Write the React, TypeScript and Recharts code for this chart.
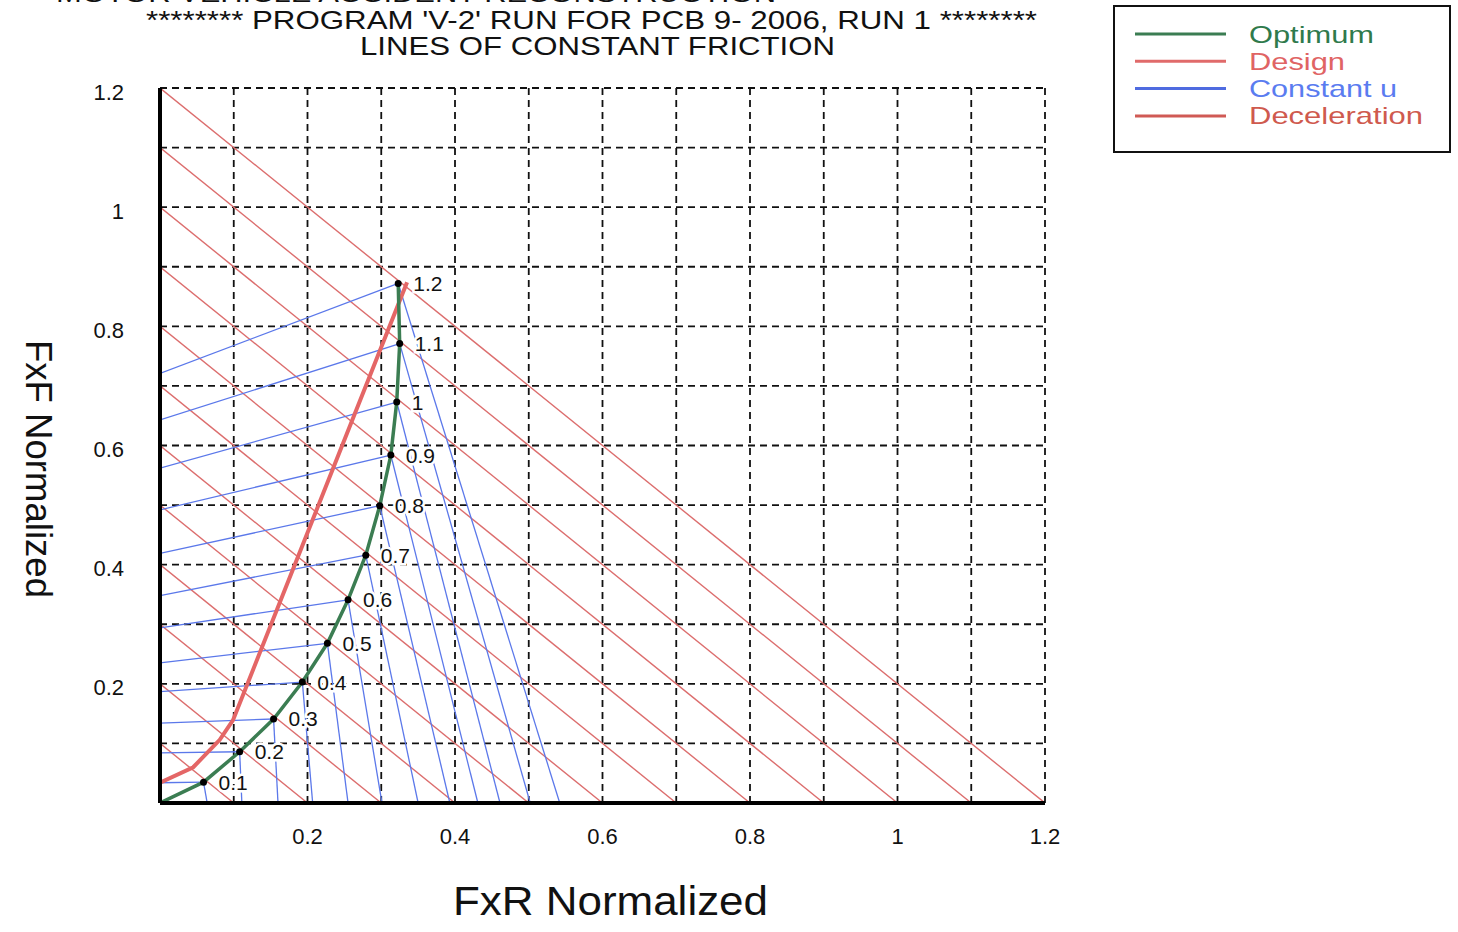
import React from "react";
import { ComposedChart, Line, Scatter, XAxis, YAxis, CartesianGrid } from "recharts";

// values (normalized by vehicle weight)
const AXIS_TICKS = [0, 0.1, 0.2, 0.3, 0.4, 0.5, 0.6, 0.7, 0.8, 0.9, 1.0, 1.1, 1.2];
const AXIS_TICK_LABELS = ["", "", "0.2", "", "0.4", "", "0.6", "", "0.8", "", "1", "", "1.2"];

// lines of constant deceleration: FxR + FxF = level
const DECEL_LEVELS = [0.1, 0.2, 0.3, 0.4, 0.5, 0.6, 0.7, 0.8, 0.9, 1.0, 1.1, 1.2];

// optimum (ideal) brake force distribution, one point per friction value
const MU_LABELS = ["0.1", "0.2", "0.3", "0.4", "0.5", "0.6", "0.7", "0.8", "0.9", "1", "1.1", "1.2"];
const OPT_FXR = [0, 0.059, 0.108, 0.154, 0.193, 0.227, 0.255, 0.279, 0.298, 0.313, 0.321, 0.325, 0.323];
const OPT_FXF = [0, 0.035, 0.086, 0.141, 0.203, 0.268, 0.341, 0.416, 0.499, 0.584, 0.673, 0.771, 0.872];

// constant-friction lines: where they meet the FxF axis (front lock) and the FxR axis (rear lock)
const FRONT_LOCK_FXF_AT_ZERO = [0.034, 0.084, 0.134, 0.187, 0.235, 0.294, 0.348, 0.419, 0.492, 0.562, 0.643, 0.721];
const REAR_LOCK_FXR_AT_ZERO = [0.064, 0.111, 0.16, 0.207, 0.255, 0.301, 0.35, 0.393, 0.431, 0.461, 0.502, 0.542];

// installed (design) brake proportioning
const DESIGN_FXR = [0, 0, 0.045, 0.081, 0.099, 0.335];
const DESIGN_FXF = [0, 0.034, 0.06, 0.106, 0.139, 0.874];

const LEGEND_ITEMS = [
  { name: "Optimum", line: "#3b7d52", text: "#2f7a4c", len: 125 },
  { name: "Design", line: "#e06a6a", text: "#e06464", len: 96 },
  { name: "Constant u", line: "#4f6be0", text: "#5a7cf0", len: 148 },
  { name: "Deceleration", line: "#d05a55", text: "#cf5a4e", len: 174 },
];

const FONT = '"Liberation Sans", Arial, Helvetica, sans-serif';
const DECEL_COLOR = "#dc6e6e";
const BLUE = "#5b78ea";
const GREEN = "#3b7d52";
const DESIGN_COLOR = "#e46666";

const decelSeries = DECEL_LEVELS.map((c) => [
  { x: 0, y: c },
  { x: c, y: 0 },
]);
const frontLockSeries = FRONT_LOCK_FXF_AT_ZERO.map((f, i) => [
  { x: 0, y: f },
  { x: OPT_FXR[i + 1], y: OPT_FXF[i + 1] },
]);
const rearLockSeries = REAR_LOCK_FXR_AT_ZERO.map((r, i) => [
  { x: OPT_FXR[i + 1], y: OPT_FXF[i + 1] },
  { x: r, y: 0 },
]);
const optimumData = OPT_FXR.map((x, i) => ({ x, y: OPT_FXF[i] }));
const designData = DESIGN_FXR.map((x, i) => ({ x, y: DESIGN_FXF[i] }));
const optimumPoints = MU_LABELS.map((label, i) => ({ x: OPT_FXR[i + 1], y: OPT_FXF[i + 1], label }));

function XTick(props: any) {
  const { x, y, index } = props;
  const label = AXIS_TICK_LABELS[index];
  if (!label) return <g />;
  return (
    <text x={x} y={y + 41} textAnchor="middle" fontSize={22} fontFamily={FONT} fill="#111">
      {label}
    </text>
  );
}

function YTick(props: any) {
  const { x, y, index } = props;
  const label = AXIS_TICK_LABELS[index];
  if (!label) return <g />;
  return (
    <text x={x - 36} y={y + 4} textAnchor="end" dominantBaseline="central" fontSize={22} fontFamily={FONT} fill="#111">
      {label}
    </text>
  );
}

function MuPoint(props: any) {
  const { cx, cy, payload } = props;
  return (
    <g>
      <text
        x={cx + 15}
        y={cy}
        dominantBaseline="central"
        fontSize={21}
        fontFamily={FONT}
        fill="#111"
        stroke="#fff"
        strokeWidth={5}
        paintOrder="stroke"
      >
        {payload.label}
      </text>
      <circle cx={cx} cy={cy} r={3.5} fill="#000" />
    </g>
  );
}

const lineProps = {
  type: "linear" as const,
  dataKey: "y",
  dot: false,
  activeDot: false,
  isAnimationActive: false,
  legendType: "none" as const,
};

export default function App() {
  return (
    <div style={{ position: "absolute", left: 0, top: 0, width: 1458, height: 932, background: "#fff" }}>
      <ComposedChart width={1458} height={932} margin={{ top: 88, right: 413, bottom: 89, left: 100 }}>
        <CartesianGrid stroke="#111" strokeWidth={1.8} strokeDasharray="7 5" />
        <XAxis
          type="number"
          dataKey="x"
          domain={[0, 1.2]}
          ticks={AXIS_TICKS}
          allowDataOverflow
          height={40}
          tickLine={false}
          tickSize={0}
          tickMargin={0}
          tick={<XTick />}
          axisLine={{ stroke: "#000", strokeWidth: 4 }}
        />
        <YAxis
          type="number"
          dataKey="y"
          domain={[0, 1.2]}
          ticks={AXIS_TICKS}
          allowDataOverflow
          width={60}
          tickLine={false}
          tickSize={0}
          tickMargin={0}
          tick={<YTick />}
          axisLine={{ stroke: "#000", strokeWidth: 4 }}
        />
        {decelSeries.map((d, i) => (
          <Line key={"dec" + i} {...lineProps} data={d} stroke={DECEL_COLOR} strokeWidth={1.4} />
        ))}
        {frontLockSeries.map((d, i) => (
          <Line key={"fl" + i} {...lineProps} data={d} stroke={BLUE} strokeWidth={1.3} />
        ))}
        {rearLockSeries.map((d, i) => (
          <Line key={"rl" + i} {...lineProps} data={d} stroke={BLUE} strokeWidth={1.3} />
        ))}
        <Line {...lineProps} data={designData} stroke={DESIGN_COLOR} strokeWidth={4} />
        <Line {...lineProps} data={optimumData} stroke={GREEN} strokeWidth={3.5} />
        <Scatter data={optimumPoints} dataKey="y" shape={<MuPoint />} isAnimationActive={false} legendType="none" />
      </ComposedChart>

      <svg
        width={1458}
        height={932}
        style={{ position: "absolute", left: 0, top: 0, pointerEvents: "none" }}
        fontFamily={FONT}
      >
        {/* first title line is cut off at the top edge in the original scan */}
        <text x={56} y={2} fontSize={24} fill="#111" textLength={720} lengthAdjust="spacingAndGlyphs">
          MOTOR VEHICLE ACCIDENT RECONSTRUCTION
        </text>
        <text x={146} y={29} fontSize={25} fill="#111" textLength={891} lengthAdjust="spacingAndGlyphs">
          ******** PROGRAM 'V-2' RUN FOR PCB 9- 2006, RUN 1 ********
        </text>
        <text x={360} y={55} fontSize={25} fill="#111" textLength={475} lengthAdjust="spacingAndGlyphs">
          LINES OF CONSTANT FRICTION
        </text>

        <text
          transform="translate(38,469) rotate(90)"
          textAnchor="middle"
          dominantBaseline="central"
          fontSize={36}
          fill="#111"
          textLength={258}
          lengthAdjust="spacingAndGlyphs"
        >
          FxF Normalized
        </text>
        <text x={453} y={915} fontSize={40} fill="#111" textLength={315} lengthAdjust="spacingAndGlyphs">
          FxR Normalized
        </text>

        <rect x={1114} y={6} width={336} height={146} fill="#fff" stroke="#111" strokeWidth={2} />
        {LEGEND_ITEMS.map((it, i) => (
          <g key={it.name}>
            <line x1={1135} x2={1226} y1={34 + i * 27.3} y2={34 + i * 27.3} stroke={it.line} strokeWidth={3} />
            <text
              x={1249}
              y={34 + i * 27.3}
              dominantBaseline="central"
              fontSize={24}
              fill={it.text}
              textLength={it.len}
              lengthAdjust="spacingAndGlyphs"
            >
              {it.name}
            </text>
          </g>
        ))}
      </svg>
    </div>
  );
}
